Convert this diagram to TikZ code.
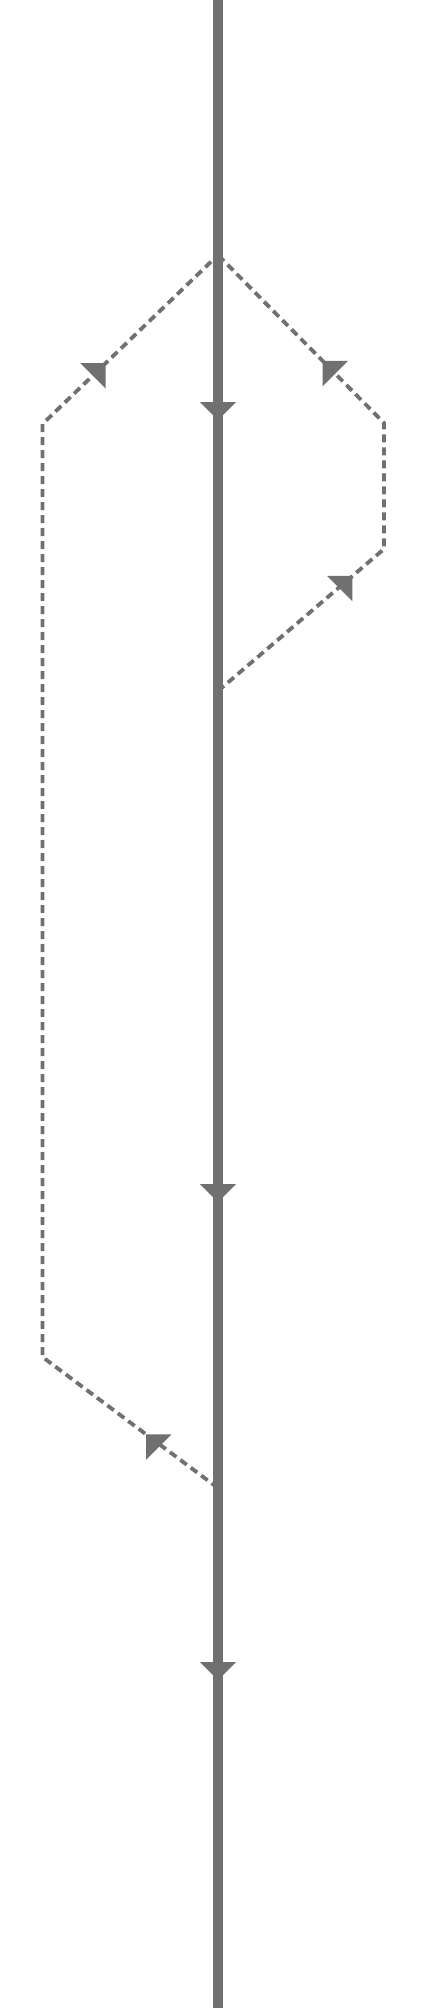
\documentclass[tikz,border=0pt]{standalone}
\usetikzlibrary{decorations.markings}
\definecolor{gcol}{RGB}{112,112,112}
\tikzset{
  x=1pt, y=-1pt,
  mainline/.style={draw=gcol, line width=9.5pt},
  ghost/.style={draw=gcol, line width=3.8pt, dash pattern=on 8pt off 5pt},
  arrowat/.style 2 args={postaction={decorate, decoration={markings,
      mark=at position #1 with {\pgftransformresetnontranslations
        \fill[gcol, rotate=#2] (0pt,0pt) -- (-18pt,18pt) -- (-18pt,-18pt) -- cycle;}}}}
}
\begin{document}
\begin{tikzpicture}
\useasboundingbox[fill=white] (0,0) rectangle (426,2008);
\coordinate (top) at (218,0);
\coordinate (bot) at (218,2008);
\coordinate (J1) at (218,255);
\coordinate (J2) at (218,691);
\coordinate (J3) at (218,1488);
\coordinate (L1) at (42.5,424);
\coordinate (L2) at (42.5,1357);
\coordinate (R1) at (384,423);
\coordinate (R2) at (384,549);
% right ghost loop
\draw[ghost] (J2) -- (R2) -- (R1) -- (J1);
\path[arrowat={0.81}{45}] (J2) -- (R2);
\path[arrowat={0.37}{135}] (R1) -- (J1);
% left ghost loop
\draw[ghost] (J3) -- (L2) -- (L1) -- (J1);
\path[arrowat={0.41}{135}] (J3) -- (L2);
\path[arrowat={0.36}{45}] (L1) -- (J1);
% main line
\draw[mainline] (top) -- (bot);
\path[postaction={decorate, decoration={markings,
  mark=at position 420pt with {\fill[gcol] (0pt,0pt) -- (-18pt,18pt) -- (-18pt,-18pt) -- cycle;},
  mark=at position 1202pt with {\fill[gcol] (0pt,0pt) -- (-18pt,18pt) -- (-18pt,-18pt) -- cycle;},
  mark=at position 1680pt with {\fill[gcol] (0pt,0pt) -- (-18pt,18pt) -- (-18pt,-18pt) -- cycle;}}}] (top) -- (bot);
\end{tikzpicture}
\end{document}
